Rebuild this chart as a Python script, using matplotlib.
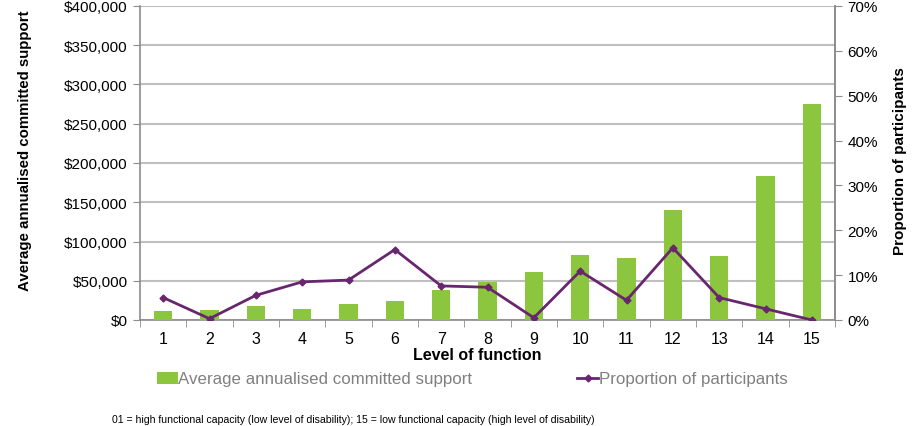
import matplotlib
matplotlib.use("Agg")
import matplotlib.pyplot as plt
import numpy as np
from matplotlib.ticker import FuncFormatter, MultipleLocator

plt.rcParams['font.family'] = ['Liberation Sans', 'DejaVu Sans']

# data
levels = [1, 2, 3, 4, 5, 6, 7, 8, 9, 10, 11, 12, 13, 14, 15]
avg_support = [11000, 13000, 18000, 13600, 20800, 23800, 38200, 48800,
               60700, 82400, 79400, 140100, 81100, 183800, 274800]
proportion = [5.0, 0.3, 5.5, 8.5, 8.9, 15.7, 7.6, 7.3, 0.5, 10.9, 4.4,
              16.1, 5.0, 2.5, 0.0]

green = '#8cc63f'
purple = '#68266f'
grid_col = '#bfbfbf'
axis_col = '#8c8c8c'

fig = plt.figure(figsize=(9.19, 4.27), dpi=100)
ax = fig.add_axes([140/919, 1 - 321/427, (835-140)/919, (321-7)/427])
ax2 = ax.twinx()

x = np.array(levels)
ax.bar(x, avg_support, width=0.4, color=green, zorder=3,
       label='Average annualised committed support')
ax2.plot(x, proportion, color=purple, lw=2, marker='D', ms=3.5,
         zorder=4, label='Proportion of participants')

ax.set_xlim(0.5, 15.5)
ax.set_ylim(0, 400000)
ax2.set_ylim(0, 70)
ax.yaxis.set_major_locator(MultipleLocator(50000))
ax2.yaxis.set_major_locator(MultipleLocator(10))
ax.yaxis.set_major_formatter(FuncFormatter(lambda v, p: '${:,.0f}'.format(v)))
ax2.yaxis.set_major_formatter(FuncFormatter(lambda v, p: '{:.0f}%'.format(v)))

ax.set_xticks(levels)
ax.set_xticklabels([str(l) for l in levels])
ax.set_xticks(np.arange(0.5, 15.6, 1), minor=True)
ax.tick_params(axis='x', which='major', length=0, labelsize=11.5, pad=8)
ax.tick_params(axis='x', which='minor', length=5, color=axis_col, direction='out')
ax.tick_params(axis='y', length=5, color=axis_col, labelsize=11, pad=4)
ax2.tick_params(axis='y', length=5, color=axis_col, labelsize=11, pad=4)

ax.grid(axis='y', color=grid_col, lw=1.5, zorder=0)
ax.set_axisbelow(True)
for a in (ax, ax2):
    a.spines['top'].set_visible(False)
    for s in ('left', 'right', 'bottom'):
        a.spines[s].set_color(axis_col)
        a.spines[s].set_linewidth(1.2)
ax2.spines['left'].set_visible(False)
ax2.spines['bottom'].set_visible(False)

fig.text(477/919, 1 - 355/427, 'Level of function', ha='center', va='center',
         fontsize=11.5, fontweight='bold')
fig.text(25/919, 1 - 291/427, 'Average annualised committed support',
         rotation=90, ha='center', va='bottom', fontsize=10.8, fontweight='bold')
fig.text(900/919, 1 - 161/427, 'Proportion of participants', rotation=90,
         ha='center', va='center', fontsize=11, fontweight='bold')

h1, l1 = ax.get_legend_handles_labels()
h2, l2 = ax2.get_legend_handles_labels()
leg = fig.legend(h1 + h2, l1 + l2, loc='center left',
                 bbox_to_anchor=(142/919, 1 - 380/427), ncol=2, frameon=False,
                 fontsize=12.2, columnspacing=6.2, handlelength=1.2,
                 handletextpad=0.05)
for t in leg.get_texts():
    t.set_color('#808080')

fig.text(112/919, 1 - 420/427,
         '01 = high functional capacity (low level of disability); 15 = low functional capacity (high level of disability)',
         fontsize=7.6, ha='left', va='center')

fig.savefig('out.png', dpi=100)
